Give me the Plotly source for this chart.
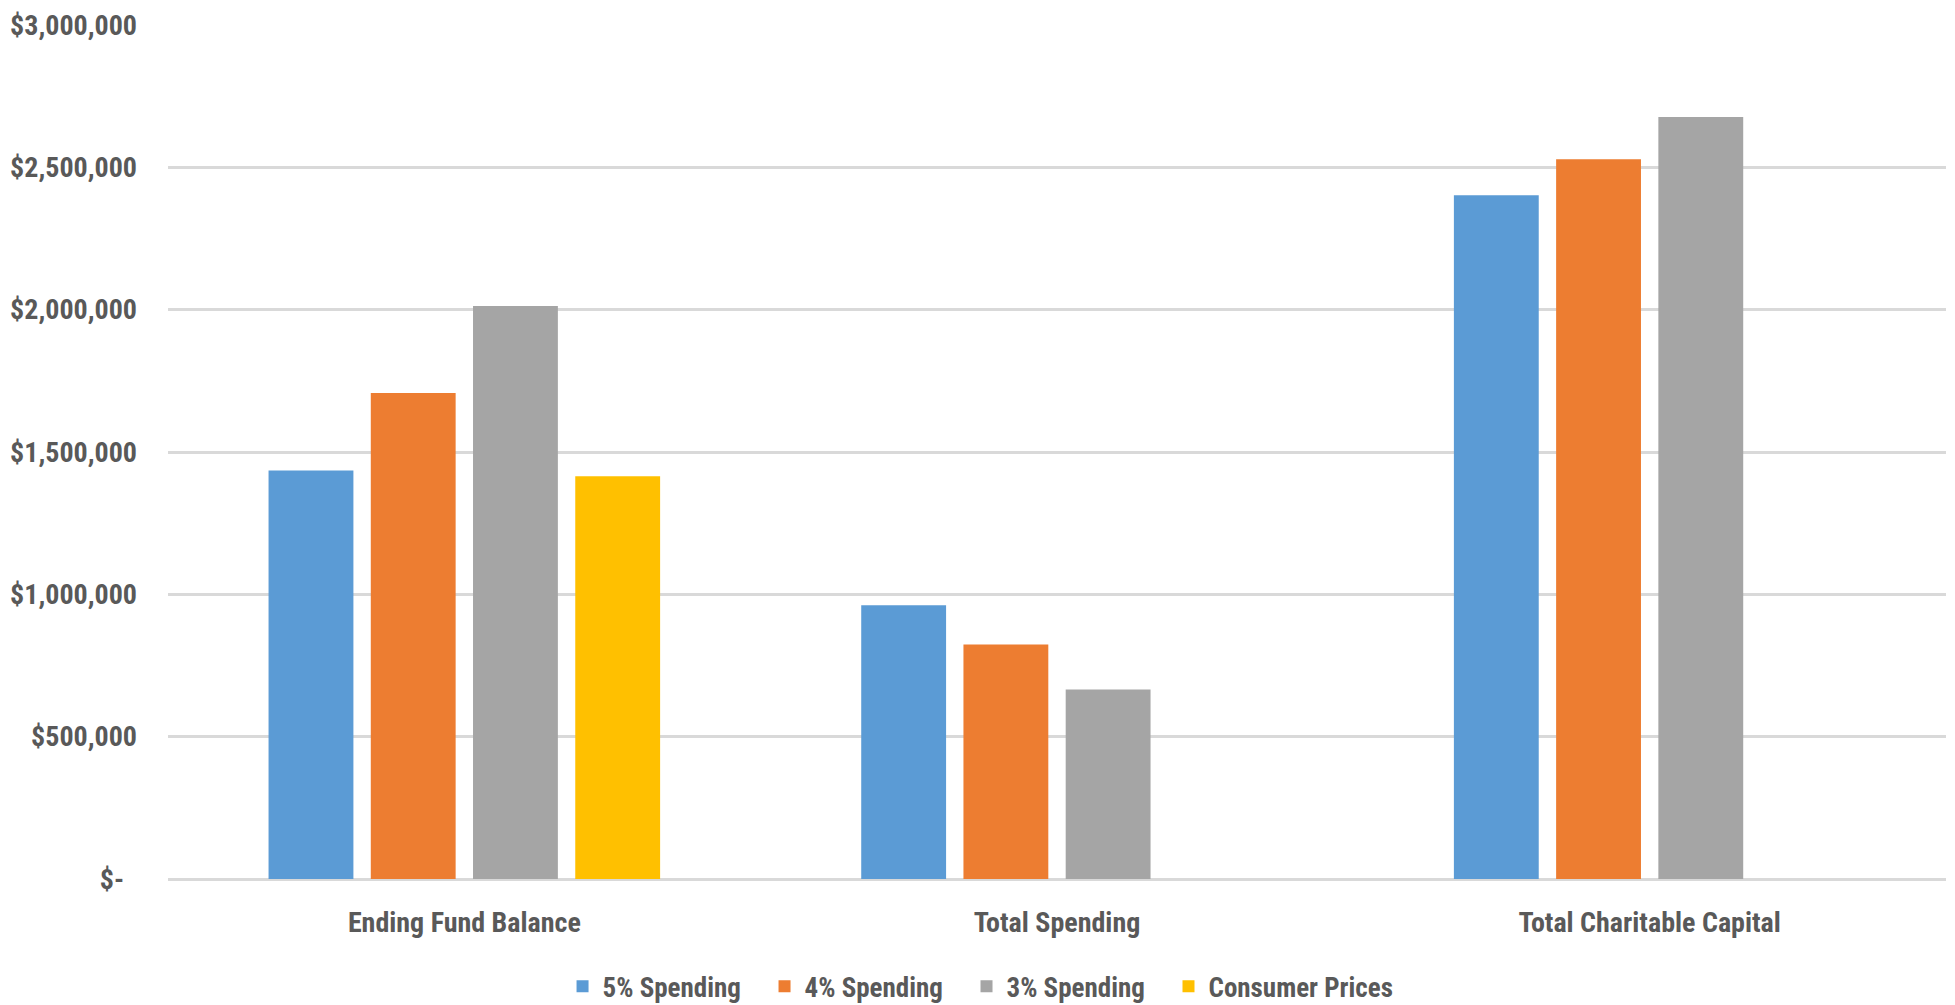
import plotly.graph_objects as go

# Chart data
categories = ["Ending Fund Balance", "Total Spending", "Total Charitable Capital"]
spending_5 = [1435000, 962000, 2402000]
spending_4 = [1707000, 824000, 2528000]
spending_3 = [2013000, 666000, 2677000]
consumer_prices = [1415000, None, None]

series_names = ["5% Spending", "4% Spending", "3% Spending", "Consumer Prices"]
series_values = [spending_5, spending_4, spending_3, consumer_prices]
series_colors = ["#5B9BD5", "#ED7D31", "#A5A5A5", "#FFC000"]

tick_values = [0, 500000, 1000000, 1500000, 2000000, 2500000, 3000000]
tick_labels = ["$-\u00a0\u00a0", "$500,000", "$1,000,000", "$1,500,000",
               "$2,000,000", "$2,500,000", "$3,000,000"]

FONT = "Liberation Sans Narrow, Roboto Condensed, Arial Narrow, Liberation Sans, sans-serif"
TEXT = "#595959"
PAD = "\u00a0\u00a0\u00a0"  # extra room between legend entries

fig = go.Figure()
for i, (name, vals, color) in enumerate(zip(series_names, series_values, series_colors)):
    label = name + (PAD if i < len(series_names) - 1 else "")
    fig.add_trace(go.Bar(
        name=label, x=categories, y=vals,
        marker=dict(color=color, line=dict(width=0)),
    ))

fig.update_layout(
    width=1955, height=1005,
    margin=dict(l=168, r=9, t=25, b=126, autoexpand=False),
    paper_bgcolor="white", plot_bgcolor="white",
    barmode="group", bargap=0.31, bargroupgap=0.17,
    font=dict(family=FONT, color=TEXT),
    showlegend=True,
    legend=dict(
        orientation="h", x=0.457, xanchor="center", y=-0.126, yanchor="middle",
        font=dict(family=FONT, size=27, color=TEXT, weight="bold"),
        itemwidth=30, traceorder="normal",
    ),
    xaxis=dict(
        showgrid=False, zeroline=False, showline=False, automargin=False,
        ticks="", ticklabelstandoff=24,
        tickfont=dict(family=FONT, size=28, color=TEXT, weight="bold"),
    ),
    yaxis=dict(
        range=[0, 3000000], tickvals=tick_values, ticktext=tick_labels,
        showgrid=True, gridcolor="#D9D9D9", gridwidth=3,
        zeroline=True, zerolinecolor="#D9D9D9", zerolinewidth=3,
        showline=False, ticks="", ticklabelstandoff=30, automargin=False,
        tickfont=dict(family=FONT, size=28, color=TEXT, weight="bold"),
    ),
)

fig.write_html("out.html")
